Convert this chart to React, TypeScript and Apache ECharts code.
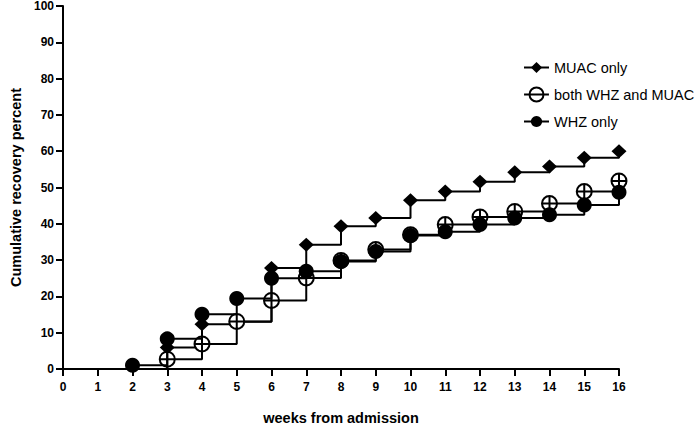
import React, { useEffect, useRef } from "react";
import * as echarts from "echarts";

const weeks = [0, 1, 2, 3, 4, 5, 6, 7, 8, 9, 10, 11, 12, 13, 14, 15, 16];
const muacOnly = [0, 0, 0, 5.9, 12.3, 13.0, 27.8, 34.2, 39.3, 41.6, 46.5, 48.9, 51.6, 54.2, 55.8, 58.2, 60.0];
const bothWhzMuac = [0, 0, 0, 2.7, 6.9, 13.1, 18.9, 25.1, 29.9, 32.9, 37.0, 39.8, 41.9, 43.4, 45.6, 48.9, 51.8];
const whzOnly = [0, 0, 1.0, 8.3, 15.1, 19.4, 25.0, 26.9, 29.6, 32.4, 36.8, 37.8, 39.8, 41.6, 42.5, 45.2, 48.7];
const seriesNames = ["MUAC only", "both WHZ and MUAC", "WHZ only"];
const xTicks = weeks;

const FONT = "Arial, 'Liberation Sans', Helvetica, sans-serif";
const openCirclePath =
  "path://M0,-10 A10,10 0 1,1 0,10 A10,10 0 1,1 0,-10 Z M-10,0 L10,0 M0,-10 L0,10";
const openCircleLegendIcon =
  "path://M-16,0 L-9,0 M9,0 L16,0 M0,-9 A9,9 0 1,1 0,9 A9,9 0 1,1 0,-9 Z M-9,0 L9,0";

function toData(values: number[]) {
  return weeks.map((w, i) =>
    values.slice(0, i + 1).every((v) => v === 0)
      ? { value: [w, values[i]], symbol: "none" }
      : { value: [w, values[i]] }
  );
}

export default function App() {
  const ref = useRef<HTMLDivElement>(null);
  useEffect(() => {
    document.body.style.margin = "0";
    if (!ref.current) return;
    const chart = echarts.init(ref.current, null, { renderer: "svg" });
    const lineStyle = { color: "#000", width: 2 };
    chart.setOption({
      animation: false,
      backgroundColor: "#fff",
      textStyle: { fontFamily: FONT },
      grid: { left: 55, right: 81, top: 6, bottom: 49, containLabel: false },
      legend: {
        left: 518,
        top: 55,
        orient: "vertical",
        itemWidth: 25,
        itemHeight: 14,
        itemGap: 11.5,
        textStyle: { fontFamily: FONT, fontSize: 14.5, color: "#000" },
        data: [
          { name: seriesNames[0] },
          { name: seriesNames[1], icon: openCircleLegendIcon },
          { name: seriesNames[2] },
        ],
      },
      xAxis: {
        type: "value",
        min: 0,
        max: 16,
        interval: 1,
        name: "weeks from admission",
        nameLocation: "middle",
        nameGap: 41,
        nameTextStyle: { fontFamily: FONT, fontSize: 14.5, fontWeight: "bold", color: "#000" },
        axisLine: { show: true, lineStyle: { color: "#000", width: 2 } },
        axisTick: { show: true, length: 7, lineStyle: { color: "#000", width: 2 } },
        axisLabel: {
          margin: 12,
          fontFamily: FONT,
          fontSize: 12,
          fontWeight: "bold",
          color: "#000",
          formatter: (v: number) => (xTicks.includes(v) ? String(v) : ""),
        },
        splitLine: { show: false },
      },
      yAxis: {
        type: "value",
        min: 0,
        max: 100,
        interval: 10,
        name: "Cumulative recovery percent",
        nameLocation: "middle",
        nameGap: 40,
        nameTextStyle: { fontFamily: FONT, fontSize: 14.5, fontWeight: "bold", color: "#000" },
        axisLine: { show: true, lineStyle: { color: "#000", width: 2 } },
        axisTick: { show: true, length: 7, lineStyle: { color: "#000", width: 2 } },
        axisLabel: { margin: 9, fontFamily: FONT, fontSize: 12, fontWeight: "bold", color: "#000" },
        splitLine: { show: false },
      },
      series: [
        {
          name: seriesNames[0],
          type: "line",
          step: "end",
          data: toData(muacOnly),
          symbol: "diamond",
          symbolSize: [15, 14],
          showAllSymbol: true,
          lineStyle,
          itemStyle: { color: "#000" },
          z: 2,
        },
        {
          name: seriesNames[1],
          type: "line",
          step: "end",
          data: toData(bothWhzMuac),
          symbol: openCirclePath,
          symbolSize: 15,
          showAllSymbol: true,
          lineStyle,
          itemStyle: { color: "#fff", borderColor: "#000", borderWidth: 2 },
          z: 3,
        },
        {
          name: seriesNames[2],
          type: "line",
          step: "end",
          data: toData(whzOnly),
          symbol: "circle",
          symbolSize: 15,
          showAllSymbol: true,
          lineStyle,
          itemStyle: { color: "#000" },
          z: 4,
        },
      ],
    });
    return () => chart.dispose();
  }, []);
  return <div ref={ref} style={{ width: 700, height: 430 }} />;
}
